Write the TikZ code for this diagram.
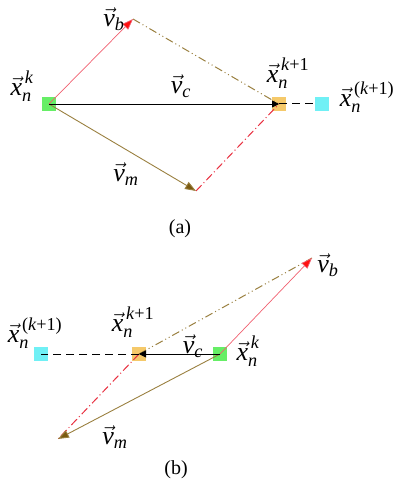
\documentclass[tikz,border=0pt]{standalone}
\usepackage{amsmath}
\usepackage{fontspec}
\setmainfont{Liberation Serif}
\usetikzlibrary{arrows.meta}
\definecolor{sqgreen}{HTML}{66EE66}
\definecolor{sqyellow}{HTML}{F5C96A}
\definecolor{sqcyan}{HTML}{70F0F5}
\definecolor{redline}{HTML}{F06070}
\definecolor{reddash}{HTML}{E83040}
\definecolor{redtip}{HTML}{FF1010}
\definecolor{olive}{HTML}{9A8040}
\definecolor{olivetip}{HTML}{7A5A10}
\newcommand\myvx[1]{$\vec{\textit{x}}_{\textit{n}}^{\,#1}$}
\newcommand\myvv[1]{$\vec{\textit{v}}_{\textit{#1}}$}
\tikzset{
  sq/.style={rectangle,minimum size=14pt,inner sep=0pt},
  lbl/.style={inner sep=0pt,font=\fontsize{26}{28}\selectfont},
  captxt/.style={inner sep=0pt,font=\fontsize{20}{22}\selectfont},
  vb/.style={draw=redline,line width=0.7pt,-{Triangle[length=11pt,width=8pt,fill=redtip]}},
  vm/.style={draw=olive,line width=0.9pt,-{Triangle[length=11pt,width=8pt,fill=olivetip]}},
  vc/.style={draw=black,line width=0.9pt,-{Triangle[length=7pt,width=7pt]}},
  oliveddash/.style={draw=olive,line width=1pt,dash pattern=on 8pt off 3pt on 1pt off 3pt on 1pt off 3pt},
  redddash/.style={draw=reddash,line width=1pt,dash pattern=on 8pt off 3pt on 1pt off 3pt},
  blackdash/.style={draw=black,line width=1pt,dash pattern=on 8pt off 5pt}
}
\begin{document}
\begin{tikzpicture}[x=1pt,y=-1pt]
\useasboundingbox (0,0) rectangle (396,489);
% ---------- (a)
\node[sq,fill=sqgreen] (ga) at (49,104) {};
\node[sq,fill=sqyellow] (ya) at (279,104) {};
\node[sq,fill=sqcyan] (ca) at (322,104) {};
\coordinate (ba) at (133,19);
\coordinate (ma) at (196,191);
\draw[oliveddash] (ba) -- (ya.center);
\draw[redddash] (ma) -- (ya.center);
\draw[blackdash] (ya.center) -- (ca.west);
\draw[vb] (ga.center) -- (ba);
\draw[vm] (ga.center) -- (ma);
\draw[vc] (ga.center) -- (ya.center);
\node[lbl] (lxa) at (22,86) {\myvx{\textit{k}}};
\node[lbl] (lba) at (114,19) {\myvv{b}};
\node[lbl] (lca) at (181,86) {\myvv{c}};
\node[lbl] (lya) at (288,73) {\myvx{\textit{k}\textrm{+1}}};
\node[lbl] (lza) at (367,97) {\myvx{\textrm{(}\textit{k}\textrm{+1)}}};
\node[lbl] (lma) at (126,174) {\myvv{m}};
\node[captxt] (capa) at (180,229) {(a)};
% ---------- (b)
\node[sq,fill=sqgreen] (gb) at (220,354) {};
\node[sq,fill=sqyellow] (yb) at (139,354) {};
\node[sq,fill=sqcyan] (cb) at (41,354) {};
\coordinate (bb) at (312,258);
\coordinate (mb) at (58,439);
\draw[oliveddash] (yb.center) -- (bb);
\draw[redddash] (yb.center) -- (mb);
\draw[blackdash] (yb.center) -- (cb.center);
\draw[vb] (gb.center) -- (bb);
\draw[vm] (gb.center) -- (mb);
\draw[vc] (gb.center) -- (yb.center);
\node[lbl] (lzb) at (35,333) {\myvx{\textrm{(}\textit{k}\textrm{+1)}}};
\node[lbl] (lyb) at (133,322) {\myvx{\textit{k}\textrm{+1}}};
\node[lbl] (lcb) at (193,346) {\myvv{c}};
\node[lbl] (lxb) at (248,351) {\myvx{\textit{k}}};
\node[lbl] (lbb) at (328,265) {\myvv{b}};
\node[lbl] (lmb) at (115,437) {\myvv{m}};
\node[captxt] (capb) at (176,470) {(b)};
\end{tikzpicture}
\end{document}
